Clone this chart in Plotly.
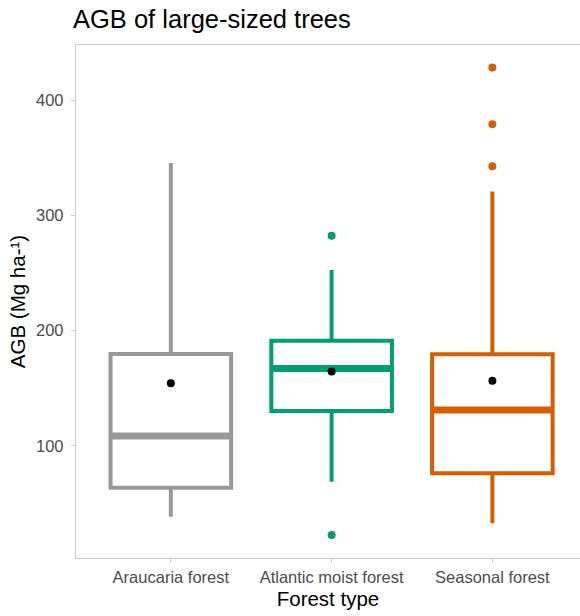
import plotly.graph_objects as go

# Forest types and their summary statistics of large-tree AGB (Mg ha-1)
categories = ["Araucaria forest", "Atlantic moist forest", "Seasonal forest"]
colors = ["#999999", "#009E73", "#D55E00"]
q1 = [63.5, 130.2, 76.0]
medians = [108.4, 167.0, 131.0]
q3 = [179.7, 191.2, 179.4]
lower_whisker = [38.3, 68.7, 32.6]
upper_whisker = [345.6, 252.6, 320.7]
means = [154.2, 164.5, 156.5]
outliers = [[], [282.4, 22.4], [428.4, 379.2, 342.7]]
y_ticks = [100, 200, 300, 400]

BOX_WIDTH = 0.75
positions = list(range(len(categories)))

fig = go.Figure()

for i, cat in enumerate(categories):
    fig.add_trace(go.Box(
        x=[positions[i]], q1=[q1[i]], median=[medians[i]], q3=[q3[i]],
        lowerfence=[lower_whisker[i]], upperfence=[upper_whisker[i]],
        width=BOX_WIDTH, boxpoints=False,
        line=dict(color=colors[i], width=4),
        fillcolor="white", whiskerwidth=0,
        name=cat, showlegend=False, hoverinfo="skip",
    ))

for i, cat in enumerate(categories):
    # thick median bar
    fig.add_trace(go.Scatter(
        x=[positions[i] - BOX_WIDTH / 2, positions[i] + BOX_WIDTH / 2],
        y=[medians[i], medians[i]], mode="lines",
        line=dict(color=colors[i], width=7),
        showlegend=False, hoverinfo="skip",
    ))
    # outliers
    if outliers[i]:
        fig.add_trace(go.Scatter(
            x=[positions[i]] * len(outliers[i]), y=outliers[i], mode="markers",
            marker=dict(color=colors[i], size=8),
            showlegend=False, hoverinfo="skip",
        ))

# group means
fig.add_trace(go.Scatter(
    x=positions, y=means, mode="markers",
    marker=dict(color="black", size=8),
    showlegend=False, hoverinfo="skip",
))

axis_font = dict(family="Liberation Sans, Arial, sans-serif", size=16.5, color="#4D4D4D")
title_font = dict(family="Liberation Sans, Arial, sans-serif", size=20.5, color="black")

fig.update_layout(
    width=580, height=616,
    margin=dict(l=76, r=0, t=45, b=58),
    paper_bgcolor="white", plot_bgcolor="white",
    title=dict(
        text="AGB of large-sized trees",
        font=dict(family="Liberation Sans, Arial, sans-serif", size=25.5, color="black"),
        xref="container", x=73 / 580, xanchor="left",
        yref="container", y=1 - 19 / 616, yanchor="middle",
    ),
    xaxis=dict(
        range=[-0.59, 2.545],
        tickmode="array", tickvals=positions, ticktext=categories,
        showgrid=False, zeroline=False,
        showline=True, linecolor="#CCCCCC", linewidth=1.3, mirror=True,
        ticks="outside", ticklen=4, tickcolor="#CCCCCC", tickwidth=1.3,
        tickfont=axis_font,
        title=dict(text="Forest type", font=title_font, standoff=6),
    ),
    yaxis=dict(
        range=[2.5, 448],
        tickmode="array", tickvals=y_ticks,
        showgrid=False, zeroline=False,
        showline=True, linecolor="#CCCCCC", linewidth=1.3,
        ticks="outside", ticklen=4, tickcolor="#CCCCCC", tickwidth=1.3,
        tickfont=axis_font, ticklabelstandoff=4,
        title=dict(text="AGB (Mg ha-¹)", font=title_font, standoff=4),
    ),
)

fig.write_html("out.html")
